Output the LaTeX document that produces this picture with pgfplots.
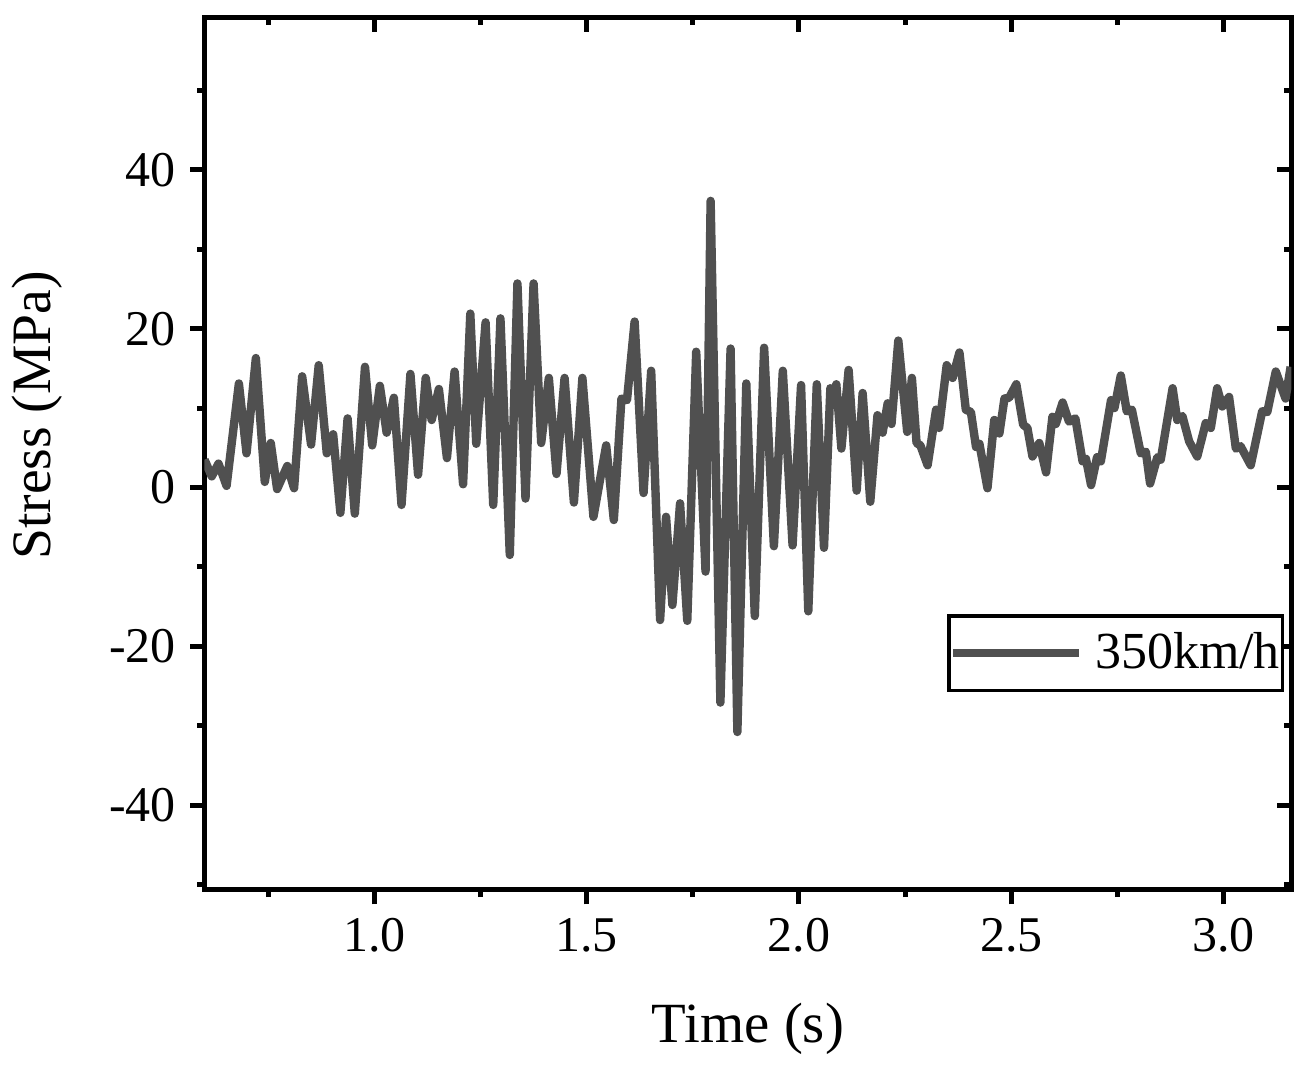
\documentclass[border=0pt]{standalone}
\usepackage{fontspec}
\setmainfont{Liberation Serif}
\usepackage{pgfplots}
\pgfplotsset{compat=1.18}
\definecolor{linegray}{RGB}{80,80,80}
\pgfplotstableread{
x y
0.600 3.5
0.617 1.4
0.633 3.0
0.652 0.2
0.681 13.1
0.699 4.3
0.721 16.3
0.742 0.7
0.756 5.6
0.771 -0.2
0.795 2.7
0.811 -0.1
0.830 14.0
0.851 5.4
0.869 15.4
0.888 4.3
0.903 6.7
0.920 -3.2
0.937 8.7
0.954 -3.3
0.978 15.2
0.995 5.3
1.013 12.8
1.029 6.9
1.046 11.3
1.064 -2.2
1.085 14.3
1.103 1.6
1.121 13.8
1.135 8.5
1.152 12.4
1.171 3.7
1.189 14.6
1.209 0.4
1.226 21.9
1.240 5.5
1.262 20.8
1.280 -2.2
1.297 21.3
1.319 -8.5
1.337 25.7
1.356 -1.4
1.375 25.7
1.393 5.6
1.411 13.8
1.429 1.7
1.448 13.8
1.470 -1.9
1.490 13.8
1.516 -3.7
1.546 5.3
1.564 -4.1
1.582 11.2
1.595 11.0
1.613 20.9
1.634 -0.7
1.652 14.7
1.673 -16.7
1.687 -3.7
1.702 -14.8
1.720 -2.0
1.737 -16.8
1.758 17.1
1.780 -10.6
1.792 36.1
1.815 -27.1
1.839 17.5
1.855 -30.8
1.876 13.1
1.896 -16.2
1.918 17.6
1.941 -7.4
1.962 14.7
1.985 -7.3
2.005 12.9
2.022 -15.6
2.042 13.0
2.059 -7.6
2.074 12.5
2.081 11.0
2.088 13.0
2.100 4.9
2.117 14.8
2.136 -0.4
2.150 11.9
2.168 -1.8
2.185 9.1
2.197 6.9
2.209 10.6
2.218 8.0
2.234 18.5
2.255 7.0
2.266 13.8
2.277 5.6
2.286 5.3
2.303 2.8
2.323 9.8
2.330 7.5
2.348 15.4
2.362 13.8
2.378 17.0
2.393 9.8
2.405 9.5
2.417 5.1
2.425 5.5
2.444 -0.1
2.460 8.5
2.472 6.8
2.484 11.2
2.495 11.3
2.512 13.0
2.528 7.9
2.538 7.5
2.550 3.9
2.566 5.6
2.582 1.9
2.597 8.9
2.605 8.0
2.621 10.7
2.636 8.3
2.651 8.7
2.668 3.3
2.676 3.6
2.688 0.3
2.702 3.8
2.711 3.3
2.735 11.0
2.743 10.0
2.758 14.1
2.772 9.6
2.784 9.8
2.805 4.3
2.817 4.5
2.827 0.5
2.844 3.8
2.852 3.5
2.880 12.5
2.891 8.5
2.903 9.0
2.919 5.8
2.938 3.9
2.958 8.1
2.970 7.5
2.985 12.5
2.997 10.2
3.013 11.4
3.029 4.9
3.040 5.2
3.064 2.8
3.091 9.6
3.103 9.5
3.123 14.6
3.146 11.2
3.158 15.2
}\stressdata
\begin{document}
\begin{tikzpicture}
\pgfplotsset{
  common/.style={
    width=271.75pt, height=218.125pt, scale only axis,
    xmin=0.6, xmax=3.16, ymin=-50.7, ymax=59.2,
    xtick={1,1.5,2,2.5,3}, minor xtick={0.75,1.25,1.75,2.25,2.75},
    ytick={-40,-20,0,20,40}, minor ytick={-50,-30,-10,10,30,50},
    axis line style={line width=1.25pt},
    major tick length=3.6pt, minor tick length=1.8pt,
    every tick/.append style={black, line width=1.25pt},
  }
}
\begin{axis}[common, xtick pos=top, ytick pos=right, tick align=inside,
  xticklabels={}, yticklabels={}]
\end{axis}
\begin{axis}[common, xtick pos=bottom, ytick pos=left, tick align=outside,
  /pgf/number format/assume math mode=true,
  ticklabel style={font=\fontsize{12.5}{14}\selectfont},
  x tick label style={/pgf/number format/.cd, fixed, fixed zerofill, precision=1, /tikz/.cd},
  xlabel={Time (s)}, ylabel={Stress (MPa)},
  xlabel style={at={(axis description cs:0.5,-0.1754)}, anchor=base, font=\fontsize{14.2}{16}\selectfont},
  ylabel style={at={(axis description cs:-0.1421,0.544)}, anchor=base, font=\fontsize{13.9}{16}\selectfont},
  legend style={at={(rel axis cs:0.6835,0.3158)}, anchor=north west, draw=black, line width=0.8pt,
    font=\fontsize{13}{15}\selectfont, inner xsep=0pt, inner ysep=3pt,
    nodes={inner xsep=0.6pt, inner ysep=1pt},
    /tikz/every odd column/.append style={column sep=2.3pt}},
  legend cell align=left,
  legend image code/.code={\draw[#1] (0pt,0pt) -- (31.5pt,0pt);},
]
\addplot[linegray, line width=2.1pt, line join=round] table[x=x, y=y] {\stressdata};
\addlegendentry{350km/h\hspace{0.5pt}}
\coordinate (sw) at (rel axis cs:0,0);
\coordinate (ne) at (rel axis cs:1,1);
\end{axis}
\pgfresetboundingbox
\path ([xshift=-51.125pt,yshift=-45.75pt]sw) rectangle ([xshift=4.875pt,yshift=4.375pt]ne);
\end{tikzpicture}
\end{document}
